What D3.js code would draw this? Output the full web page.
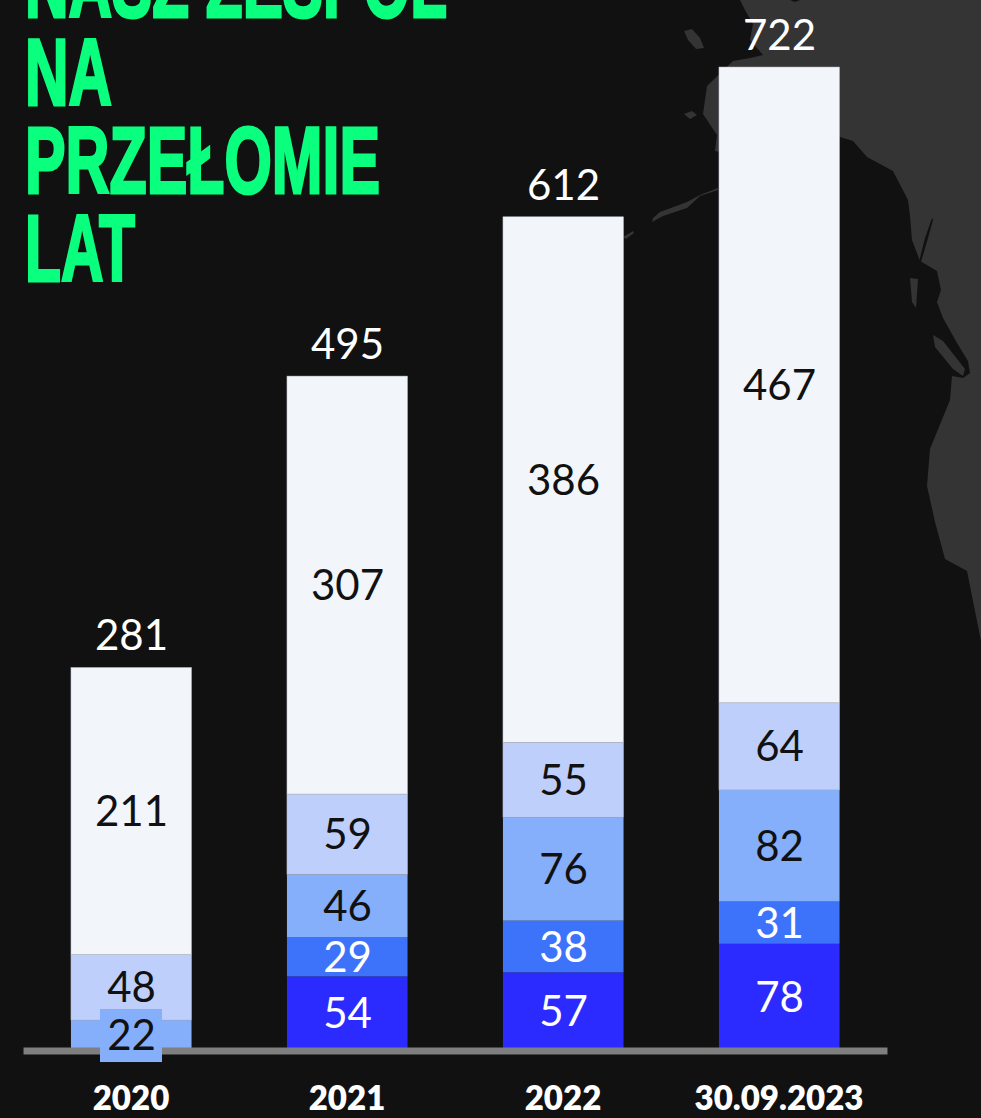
<!DOCTYPE html>
<html><head><meta charset="utf-8">
<style>html,body{margin:0;padding:0;background:#111}svg{display:block}</style>
<script src="https://cdn.jsdelivr.net/npm/d3@7"></script></head><body>
<svg id="c" width="981" height="1118"></svg>
<script>
const categories = ["2020","2021","2022","30.09.2023"];
const level1 = [0,54,57,78];
const level2 = [0,29,38,31];
const level3 = [22,46,76,82];
const level4 = [48,59,55,64];
const level5 = [211,307,386,467];
const totals = [281,495,612,722];
const seriesColors = ["#2B2BFF","#3D72FB","#85AEFB","#BFCFFB","#F2F5FA"];
const labelColors = ["#fff","#fff","#111","#111","#111"];
const titleLines = [["NASZ ZESPÓŁ",422],["NA",87],["PRZEŁOMIE",355],["LAT",110]];
const seriesList = [level1,level2,level3,level4,level5];

const svg = d3.select("#c");
svg.append("rect").attr("width",981).attr("height",1118).attr("fill","#111");

// decorative map backdrop
const land = "M740 0L745 10L753 24L750 40L763 55L750 58L733 61L707 86L703 114L717 135L715 151L760 160L840 137L853 141L867 157L893 171L908 200L910 216L912 240L920 261L937 271L941 290L937 302L943 318L957 343L968 361L970 373L963 378L952 376L950 400L930 449L927 486L935 522L945 559L967 571L981 641L981 0Z";
svg.append("path").attr("d",land).attr("fill","#343434");
const isles = [
 "M652 222L663 216L687 208L700 196L718 190L718 188L700 195L687 202L660 212L653 218Z",
 "M623 237L633 231L634 233L626 239Z",
 "M684 31L692 29L700 38L704 48L696 49L688 40Z",
 "M684 114L692 111L697 115L690 119Z",
 "M910 278L918 279L916 308L912 302Z",
 "M933 335L943 341L965 369L963 376L953 369L935 347Z"];
svg.selectAll("path.isle").data(isles).join("path").attr("class","isle").attr("d",d=>d).attr("fill","#343434");
const darks = ["M932 218L925 238L919 262L921 262L928 238L933 220Z","M790 0L795 2L800 0Z"];
svg.selectAll("path.dark").data(darks).join("path").attr("class","dark").attr("d",d=>d).attr("fill","#111");

const x = d3.scaleBand().domain(categories).range([23,887]).paddingInner(0.444).paddingOuter(0.222);
const y = d3.scaleLinear().domain([0,722]).range([1050,67]);

// stacks
const rows = categories.map((c,i)=>{
  const o={cat:c}; seriesList.forEach((s,k)=>o["s"+k]=s[i]); return o;});
const keys = seriesList.map((s,k)=>"s"+k);
const stacked = d3.stack().keys(keys)(rows);
const font = "Lato";
stacked.forEach((layer,k)=>{
  svg.append("g").selectAll("rect").data(layer.filter(d=>d[1]>d[0])).join("rect")
    .attr("x",d=>x(d.data.cat)).attr("width",x.bandwidth()+0.5)
    .attr("y",d=>y(d[1])).attr("height",d=>y(d[0])-y(d[1]))
    .attr("fill",seriesColors[k])
    .attr("stroke",k>=3?"#aab2c0":"none").attr("stroke-width",k>=3?0.5:0);
});

// axis
const axis = svg.append("g").attr("transform","translate(0,1050.5)")
  .call(d3.axisBottom(x).tickSize(0).tickPadding(36));
axis.select(".domain").attr("stroke","#7f7f7f").attr("stroke-width",7);
axis.selectAll("text").attr("fill","#fff")
  .style("font-family","Lato").style("font-weight",800).style("font-size","33px");

// highlight box behind the small 2020 label
const small = stacked[2][0];
svg.append("rect").attr("x",x(small.data.cat)+x.bandwidth()/2-31).attr("width",62)
  .attr("y",y((small[0]+small[1])/2)-26).attr("height",53).attr("fill",seriesColors[2]);
stacked.forEach((layer,k)=>{
  svg.append("g").selectAll("text").data(layer.filter(d=>d[1]>d[0])).join("text")
    .attr("x",d=>x(d.data.cat)+x.bandwidth()/2+0.5)
    .attr("y",d=>(y(d[0])+y(d[1]))/2+15)
    .attr("text-anchor","middle").attr("fill",labelColors[k])
    .style("font-family",font).style("font-size","42px")
    .text(d=>d[1]-d[0]);
});
// totals
svg.append("g").selectAll("text").data(categories).join("text")
  .attr("x",d=>x(d)+x.bandwidth()/2+0.5)
  .attr("y",(d,i)=>y(totals[i])-17)
  .attr("text-anchor","middle").attr("fill","#fff")
  .style("font-family",font).style("font-size","42px")
  .text((d,i)=>totals[i]);

// title
svg.append("g").selectAll("text").data(titleLines).join("text")
  .attr("x",25).attr("y",(d,i)=>16.5+i*88)
  .attr("textLength",d=>d[1]).attr("lengthAdjust","spacingAndGlyphs")
  .attr("fill","#0BFF7F").attr("stroke","#0BFF7F").attr("stroke-width",3)
  .style("font-family","'Liberation Sans Narrow','Liberation Sans'").style("font-weight",700).style("font-size","95px")
  .text(d=>d[0]);
</script></body></html>
